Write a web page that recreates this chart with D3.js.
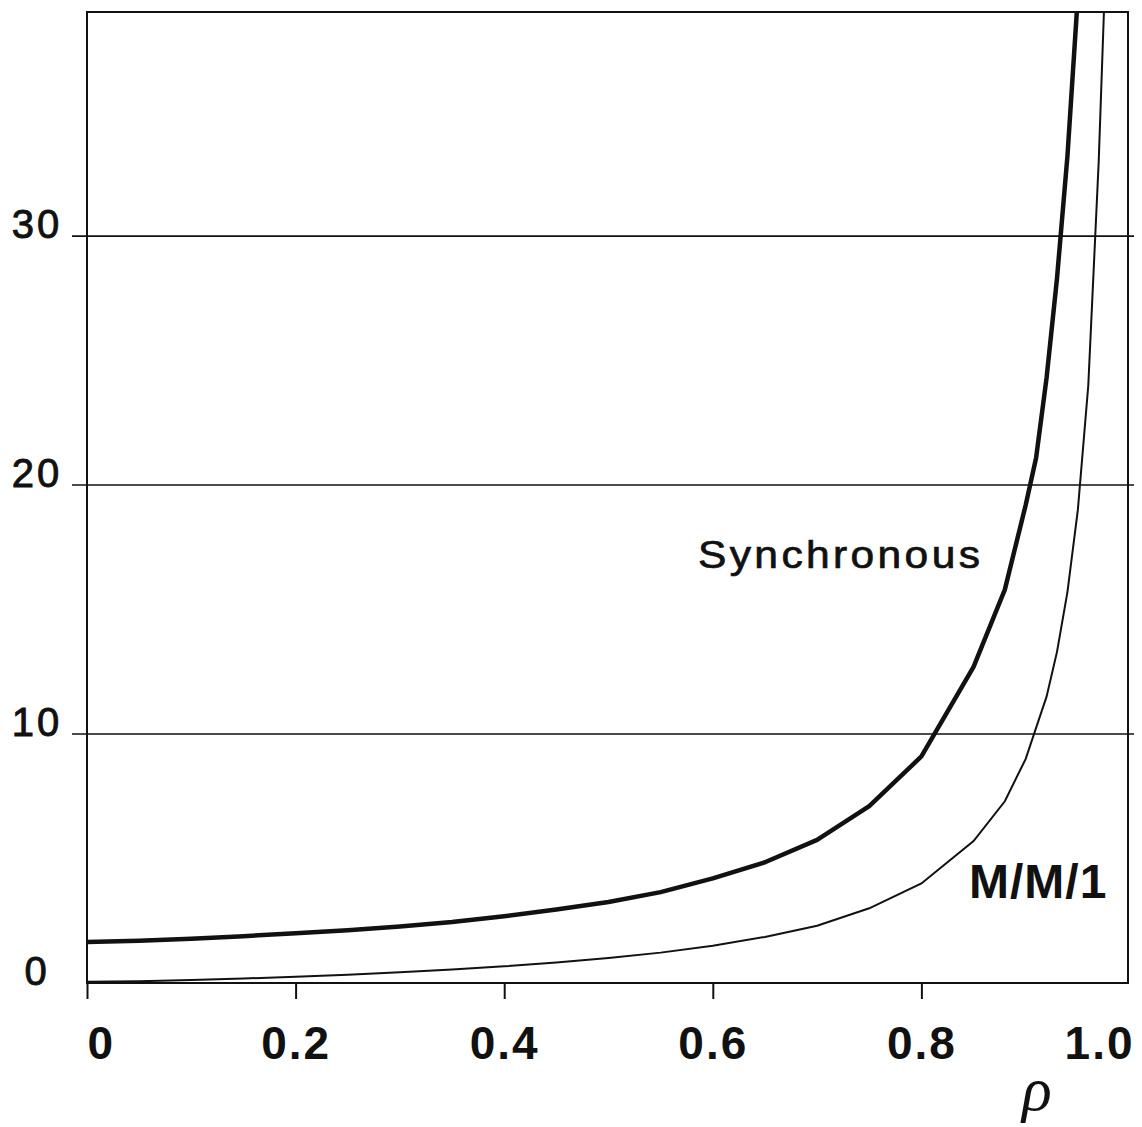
<!DOCTYPE html>
<html>
<head>
<meta charset="utf-8">
<script src="https://cdn.jsdelivr.net/npm/d3@7"></script>
<style>
    body { margin: 0; background: #fff; }
    svg { display: block; }
    text { font-family: "Liberation Sans", Arial, Helvetica, sans-serif; fill: #111; }
</style>
</head>
<body>
<svg id="chart"></svg>
<script>
// utilisation rho -> mean number in system
const rhoSync = [0, 0.05, 0.1, 0.15, 0.2, 0.25, 0.3, 0.35, 0.4, 0.45, 0.5, 0.55, 0.6,
    0.65, 0.7, 0.75, 0.8, 0.85, 0.88, 0.9, 0.91, 0.92, 0.93, 0.94, 0.949];
const synchronous = [1.65, 1.7, 1.78, 1.88, 2.0, 2.12, 2.27, 2.45, 2.68, 2.95, 3.25, 3.65, 4.2,
    4.85, 5.75, 7.1, 9.1, 12.7, 15.8, 19.2, 21.1, 24.3, 28.3, 33.2, 39];

const rhoMM1 = [0, 0.05, 0.1, 0.15, 0.2, 0.25, 0.3, 0.35, 0.4, 0.45, 0.5, 0.55, 0.6,
    0.65, 0.7, 0.75, 0.8, 0.85, 0.88, 0.9, 0.92, 0.93, 0.94, 0.95, 0.96, 0.97, 0.975];
const mm1 = [0.05, 0.07, 0.12, 0.18, 0.25, 0.33, 0.43, 0.54, 0.67, 0.82, 1.0, 1.22, 1.5,
    1.85, 2.3, 3.0, 4.0, 5.7, 7.3, 9.0, 11.5, 13.3, 15.7, 19, 24, 33, 39];

const xTicks = [0, 0.2, 0.4, 0.6, 0.8, 1.0];
const xTickLabels = ["0", "0.2", "0.4", "0.6", "0.8", "1.0"];
const yGrid = [10, 20, 30];
const yTicks = [0, 10, 20, 30];
const yTickLabels = ["0", "10", "20", "30"];

const W = 1142, H = 1127;
const plot = { left: 87, right: 1130, top: 12, bottom: 983 };

const svg = d3.select("#chart").attr("width", W).attr("height", H);

const x = d3.scaleLinear().domain([0, 1]).range([plot.left, plot.right]);
const y = d3.scaleLinear().domain([0, 39]).range([plot.bottom, plot.top]);

// horizontal grid lines, poking out a little on both sides
svg.append("g")
    .selectAll("line")
    .data(yGrid)
    .enter().append("line")
    .attr("x1", plot.left - 15)
    .attr("x2", plot.right + 4)
    .attr("y1", d => y(d))
    .attr("y2", d => y(d))
    .attr("stroke", "#111")
    .attr("stroke-width", 1.6);

// frame
svg.append("rect")
    .attr("x", plot.left)
    .attr("y", plot.top)
    .attr("width", plot.right - plot.left - 2)
    .attr("height", plot.bottom - plot.top)
    .attr("fill", "none")
    .attr("stroke", "#111")
    .attr("stroke-width", 2);

// x axis ticks (no mark under 1.0)
const xAxis = svg.append("g")
    .attr("transform", "translate(0," + plot.bottom + ")")
    .call(d3.axisBottom(x).tickValues(xTicks).tickSize(16).tickFormat((d, i) => xTickLabels[i]));
xAxis.select(".domain").remove();
xAxis.selectAll(".tick line")
    .attr("stroke", "#111")
    .attr("stroke-width", 2)
    .attr("display", d => d === 1 ? "none" : null);
xAxis.selectAll(".tick text")
    .attr("y", 76)
    .attr("dy", 0)
    .attr("fill", "#111")
    .style("font-size", "46px")
    .style("font-weight", "bold")
    .style("letter-spacing", "2px")
    .attr("text-anchor", d => d === 0 ? "start" : d === 1 ? "end" : "middle")
    .attr("dx", d => d === 1 ? "4px" : null);

// y labels, centred in the left margin
svg.append("g")
    .selectAll("text")
    .data(yTicks)
    .enter().append("text")
    .attr("x", 37)
    .attr("y", d => y(d) + 2)
    .attr("text-anchor", "middle")
    .attr("stroke", "#111")
    .attr("stroke-width", 0.9)
    .style("font-size", "40px")
    .style("letter-spacing", "3px")
    .text((d, i) => yTickLabels[i]);

svg.append("clipPath").attr("id", "plot")
    .append("rect")
    .attr("x", plot.left).attr("y", plot.top)
    .attr("width", plot.right - plot.left).attr("height", plot.bottom - plot.top);

const line = d3.line()
    .x(d => x(d[0]))
    .y(d => y(d[1]));

svg.append("path")
    .datum(d3.zip(rhoMM1, mm1))
    .attr("clip-path", "url(#plot)")
    .attr("fill", "none")
    .attr("stroke", "#111")
    .attr("stroke-width", 2)
    .attr("d", line);

svg.append("path")
    .datum(d3.zip(rhoSync, synchronous))
    .attr("clip-path", "url(#plot)")
    .attr("fill", "none")
    .attr("stroke", "#111")
    .attr("stroke-width", 4.5)
    .attr("stroke-linejoin", "round")
    .attr("d", line);

// curve labels (scan is a little stretched sideways)
svg.append("text")
    .attr("transform", "translate(698,568) scale(1.12,1)")
    .attr("stroke", "#111")
    .attr("stroke-width", 0.7)
    .style("font-size", "38px")
    .style("letter-spacing", "3px")
    .text("Synchronous");

svg.append("text")
    .attr("x", 969)
    .attr("y", 898)
    .style("font-size", "48px")
    .style("font-weight", "bold")
    .style("letter-spacing", "1px")
    .text("M/M/1");

// axis title
svg.append("text")
    .attr("x", 1037)
    .attr("y", 1110)
    .attr("text-anchor", "middle")
    .style("font-family", "'Liberation Serif', 'DejaVu Serif', serif")
    .style("font-style", "italic")
    .style("font-size", "62px")
    .text("ρ");
</script>
</body>
</html>
